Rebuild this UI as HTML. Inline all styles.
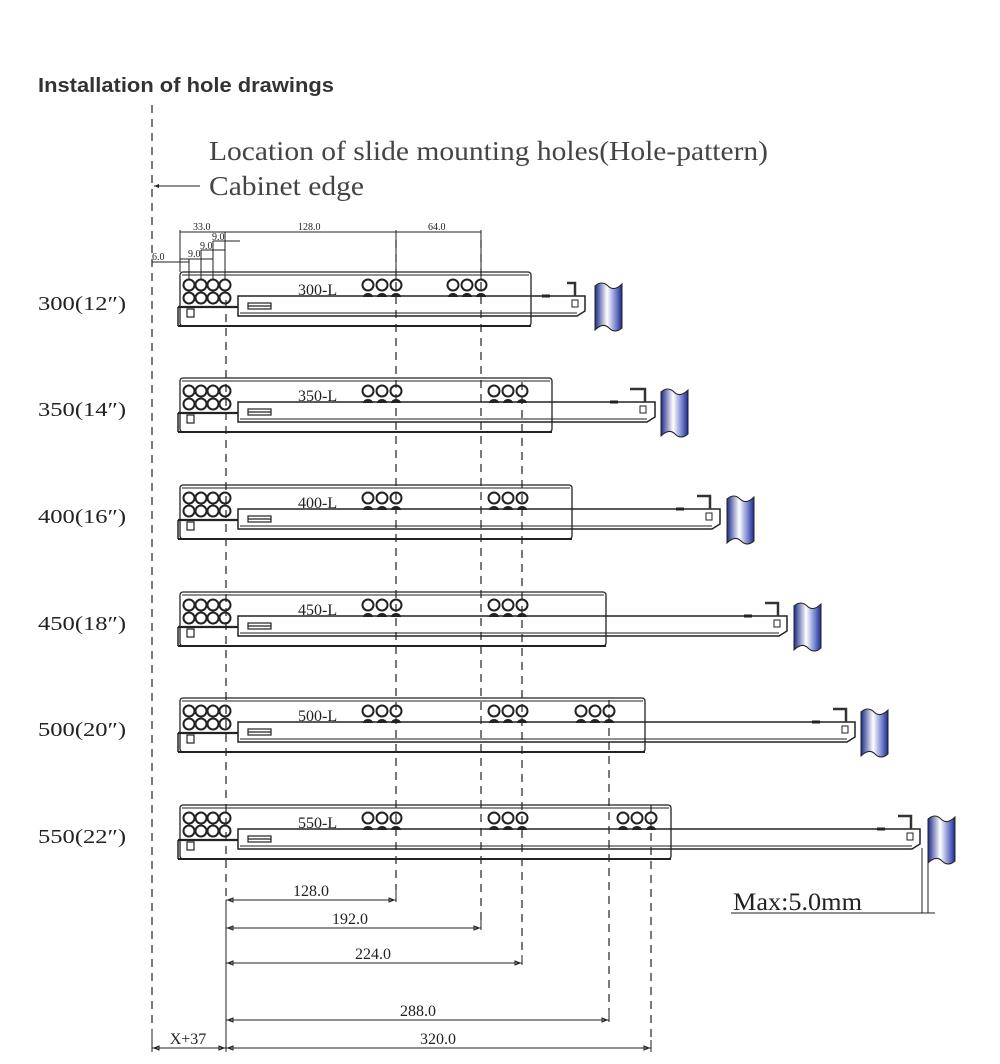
<!DOCTYPE html>
<html><head><meta charset="utf-8"><style>
html,body{margin:0;padding:0;background:#fff;}
svg{display:block;}
.s{font-family:"Liberation Serif",serif;}
</style></head><body>
<svg width="1000" height="1064" viewBox="0 0 1000 1064" xmlns="http://www.w3.org/2000/svg">
<defs>
<linearGradient id="pg" x1="0" x2="1" y1="0" y2="0">
<stop offset="0" stop-color="#1c2a8a"/><stop offset="0.45" stop-color="#ffffff"/><stop offset="0.8" stop-color="#6a78c8"/><stop offset="1" stop-color="#1c2a8a"/>
</linearGradient>
<g id="common" fill="none" stroke="#222">
<g stroke-width="2">
<circle cx="189" cy="13" r="5.5"/><circle cx="201" cy="13" r="5.5"/><circle cx="213" cy="13" r="5.5"/><circle cx="225" cy="13" r="5.5"/>
<circle cx="189" cy="26" r="5.5"/><circle cx="201" cy="26" r="5.5"/><circle cx="213" cy="26" r="5.5"/><circle cx="225" cy="26" r="5.5"/>
</g>
<line x1="178" y1="35" x2="238" y2="35" stroke-width="2.2"/>
<line x1="178" y1="35" x2="178" y2="54" stroke-width="1.5"/>
<rect x="187" y="37" width="7" height="8" stroke-width="1.2"/>
<rect x="248" y="31" width="23" height="6" stroke-width="1.2"/>
<line x1="248" y1="34" x2="271" y2="34" stroke-width="1.2"/>
</g>
<g id="grp" fill="none" stroke="#222" stroke-width="2">
<circle cx="-28" cy="13" r="5.5"/><circle cx="-14" cy="13" r="5.5"/><circle cx="0" cy="13" r="5.5"/>
<path d="M-33,25 a5,4 0 0 1 10,0z M-19,25 a5,4 0 0 1 10,0z M-5,25 a5,4 0 0 1 10,0z" fill="#222" stroke="none"/>
</g>
<path id="post" d="M0,2 q7,-6 13,0 t14,-2 V44 q-7,6 -13,0 t-14,2 Z" fill="url(#pg)" stroke="#222" stroke-width="1"/>
</defs>

<text x="38" y="92" font-family="Liberation Sans, sans-serif" font-weight="bold" font-size="20" fill="#333" textLength="296" lengthAdjust="spacingAndGlyphs">Installation of hole drawings</text>
<text x="209" y="160" class="s" font-size="27" fill="#444" textLength="559" lengthAdjust="spacingAndGlyphs">Location of slide mounting holes(Hole-pattern)</text>
<text x="209" y="195" class="s" font-size="27" fill="#444" textLength="155" lengthAdjust="spacingAndGlyphs">Cabinet edge</text>
<line x1="154" y1="186" x2="200" y2="186" stroke="#222" stroke-width="1"/>
<path d="M154,186 l5,-2 v4z" fill="#222"/>

<g stroke="#222" stroke-width="1.2" stroke-dasharray="8,6" fill="none">
<line x1="152" y1="105" x2="152" y2="1030"/>
<line x1="226" y1="300" x2="226" y2="900"/>
<line x1="396" y1="240" x2="396" y2="890"/>
<line x1="481" y1="240" x2="481" y2="920"/>
<line x1="522" y1="382" x2="522" y2="955"/>
<line x1="609" y1="700" x2="609" y2="1010"/>
<line x1="651" y1="805" x2="651" y2="1040"/>
</g>
<g stroke="#222" stroke-width="1" fill="none">
<line x1="152" y1="1030" x2="152" y2="1052"/>
<line x1="226" y1="900" x2="226" y2="1052"/>
<line x1="396" y1="890" x2="396" y2="902"/>
<line x1="481" y1="920" x2="481" y2="930"/>
<line x1="522" y1="955" x2="522" y2="965"/>
<line x1="609" y1="1010" x2="609" y2="1022"/>
<line x1="651" y1="1040" x2="651" y2="1052"/>
<line x1="226" y1="900" x2="396" y2="900"/>
<line x1="226" y1="928" x2="481" y2="928"/>
<line x1="226" y1="963" x2="522" y2="963"/>
<line x1="226" y1="1020" x2="609" y2="1020"/>
<line x1="226" y1="1048" x2="651" y2="1048"/>
<line x1="152" y1="1048" x2="226" y2="1048"/>
</g>
<g fill="none" stroke="#222" stroke-width="1">
<path d="M228,900 l5,-2 v4z M394,900 l-5,-2 v4z M228,928 l5,-2 v4z M479,928 l-5,-2 v4z M228,963 l5,-2 v4z M520,963 l-5,-2 v4z M228,1020 l5,-2 v4z M607,1020 l-5,-2 v4z M228,1048 l5,-2 v4z M649,1048 l-5,-2 v4z M154,1048 l5,-2 v4z M224,1048 l-5,-2 v4z"/>
</g>
<g class="s" font-size="16" fill="#222" text-anchor="middle">
<text x="311" y="896">128.0</text>
<text x="350" y="924">192.0</text>
<text x="373" y="959">224.0</text>
<text x="418" y="1016">288.0</text>
<text x="438" y="1044">320.0</text>
<text x="188" y="1044">X+37</text>
</g>
<text x="733" y="910" class="s" font-size="25" fill="#222" textLength="129" lengthAdjust="spacingAndGlyphs">Max:5.0mm</text>
<g stroke="#222" stroke-width="1">
<line x1="731" y1="913" x2="935" y2="913"/>
<line x1="922" y1="848" x2="922" y2="913"/>
<line x1="928" y1="848" x2="928" y2="913"/>
</g>

<g stroke="#222" stroke-width="1" fill="none">
<line x1="180" y1="232" x2="481" y2="232"/>
<line x1="180" y1="230" x2="180" y2="272"/>
<line x1="396" y1="230" x2="396" y2="280"/>
<line x1="481" y1="230" x2="481" y2="280"/>
<line x1="225" y1="232" x2="225" y2="280"/>
<line x1="213" y1="241" x2="213" y2="280"/>
<line x1="201" y1="250" x2="201" y2="280"/>
<line x1="189" y1="259" x2="189" y2="280"/>
<line x1="213" y1="241" x2="240" y2="241"/>
<line x1="201" y1="250" x2="225" y2="250"/>
<line x1="180" y1="259" x2="213" y2="259"/>
<line x1="152" y1="262" x2="189" y2="262"/>
</g>
<g class="s" font-size="10" fill="#222">
<text x="193" y="230">33.0</text>
<text x="298" y="230">128.0</text>
<text x="428" y="230">64.0</text>
<text x="212" y="240">9.0</text>
<text x="200" y="249">9.0</text>
<text x="188" y="257">9.0</text>
<text x="152" y="260">6.0</text>
</g>

<g class="s" font-size="20" fill="#222">
<text x="38" y="310" textLength="88" lengthAdjust="spacingAndGlyphs">300(12″)</text>
<text x="38" y="416" textLength="88" lengthAdjust="spacingAndGlyphs">350(14″)</text>
<text x="38" y="523" textLength="88" lengthAdjust="spacingAndGlyphs">400(16″)</text>
<text x="38" y="630" textLength="88" lengthAdjust="spacingAndGlyphs">450(18″)</text>
<text x="38" y="736" textLength="88" lengthAdjust="spacingAndGlyphs">500(20″)</text>
<text x="38" y="843" textLength="88" lengthAdjust="spacingAndGlyphs">550(22″)</text>
</g>

<g transform="translate(0,272)">
<rect x="180" y="0" width="351" height="54" rx="3" fill="none" stroke="#222" stroke-width="1.3"/>
<line x1="182" y1="3" x2="529" y2="3" stroke="#222"/>
<line x1="178" y1="54" x2="531" y2="54" stroke="#222" stroke-width="2"/>
<use href="#grp" x="396"/><use href="#grp" x="481"/>
<path d="M238,24 H585 V39 L577,44 H238 Z" fill="none" stroke="#222" stroke-width="1.5"/>
<line x1="240" y1="41" x2="577" y2="41" stroke="#222"/>
<use href="#common"/>
<text x="298" y="23" class="s" font-size="16" fill="#222">300-L</text>
<path d="M567,11 H575 V24" fill="none" stroke="#333" stroke-width="2.5"/><rect x="572" y="28" width="6" height="7" fill="none" stroke="#222"/>
<line x1="542" y1="24" x2="550" y2="24" stroke="#222" stroke-width="3"/>
<use href="#post" x="595" y="12"/>
</g>
<g transform="translate(0,378)">
<rect x="180" y="0" width="372" height="54" rx="3" fill="none" stroke="#222" stroke-width="1.3"/>
<line x1="182" y1="3" x2="550" y2="3" stroke="#222"/>
<line x1="178" y1="54" x2="552" y2="54" stroke="#222" stroke-width="2"/>
<use href="#grp" x="396"/><use href="#grp" x="522"/>
<path d="M238,24 H655 V39 L647,44 H238 Z" fill="none" stroke="#222" stroke-width="1.5"/>
<line x1="240" y1="41" x2="647" y2="41" stroke="#222"/>
<use href="#common"/>
<text x="298" y="23" class="s" font-size="16" fill="#222">350-L</text>
<path d="M630,11 H645 V24" fill="none" stroke="#333" stroke-width="2.5"/><rect x="640" y="28" width="6" height="7" fill="none" stroke="#222"/>
<line x1="610" y1="24" x2="618" y2="24" stroke="#222" stroke-width="3"/>
<use href="#post" x="661" y="12"/>
</g>
<g transform="translate(0,485)">
<rect x="180" y="0" width="392" height="54" rx="3" fill="none" stroke="#222" stroke-width="1.3"/>
<line x1="182" y1="3" x2="570" y2="3" stroke="#222"/>
<line x1="178" y1="54" x2="572" y2="54" stroke="#222" stroke-width="2"/>
<use href="#grp" x="396"/><use href="#grp" x="522"/>
<path d="M238,24 H720 V39 L712,44 H238 Z" fill="none" stroke="#222" stroke-width="1.5"/>
<line x1="240" y1="41" x2="712" y2="41" stroke="#222"/>
<use href="#common"/>
<text x="298" y="23" class="s" font-size="16" fill="#222">400-L</text>
<path d="M697,11 H710 V24" fill="none" stroke="#333" stroke-width="2.5"/><rect x="706" y="28" width="6" height="7" fill="none" stroke="#222"/>
<line x1="676" y1="24" x2="684" y2="24" stroke="#222" stroke-width="3"/>
<use href="#post" x="727" y="12"/>
</g>
<g transform="translate(0,592)">
<rect x="180" y="0" width="426" height="54" rx="3" fill="none" stroke="#222" stroke-width="1.3"/>
<line x1="182" y1="3" x2="604" y2="3" stroke="#222"/>
<line x1="178" y1="54" x2="606" y2="54" stroke="#222" stroke-width="2"/>
<use href="#grp" x="396"/><use href="#grp" x="522"/>
<path d="M238,24 H787 V39 L779,44 H238 Z" fill="none" stroke="#222" stroke-width="1.5"/>
<line x1="240" y1="41" x2="779" y2="41" stroke="#222"/>
<use href="#common"/>
<text x="298" y="23" class="s" font-size="16" fill="#222">450-L</text>
<path d="M765,11 H778 V24" fill="none" stroke="#333" stroke-width="2.5"/><rect x="774" y="28" width="6" height="7" fill="none" stroke="#222"/>
<line x1="744" y1="24" x2="752" y2="24" stroke="#222" stroke-width="3"/>
<use href="#post" x="794" y="12"/>
</g>
<g transform="translate(0,698)">
<rect x="180" y="0" width="465" height="54" rx="3" fill="none" stroke="#222" stroke-width="1.3"/>
<line x1="182" y1="3" x2="643" y2="3" stroke="#222"/>
<line x1="178" y1="54" x2="645" y2="54" stroke="#222" stroke-width="2"/>
<use href="#grp" x="396"/><use href="#grp" x="522"/><use href="#grp" x="609"/>
<path d="M238,24 H855 V39 L847,44 H238 Z" fill="none" stroke="#222" stroke-width="1.5"/>
<line x1="240" y1="41" x2="847" y2="41" stroke="#222"/>
<use href="#common"/>
<text x="298" y="23" class="s" font-size="16" fill="#222">500-L</text>
<path d="M833,11 H846 V24" fill="none" stroke="#333" stroke-width="2.5"/><rect x="842" y="28" width="6" height="7" fill="none" stroke="#222"/>
<line x1="812" y1="24" x2="820" y2="24" stroke="#222" stroke-width="3"/>
<use href="#post" x="861" y="12"/>
</g>
<g transform="translate(0,805)">
<rect x="180" y="0" width="491" height="54" rx="3" fill="none" stroke="#222" stroke-width="1.3"/>
<line x1="182" y1="3" x2="669" y2="3" stroke="#222"/>
<line x1="178" y1="54" x2="671" y2="54" stroke="#222" stroke-width="2"/>
<use href="#grp" x="396"/><use href="#grp" x="522"/><use href="#grp" x="651"/>
<path d="M238,24 H920 V39 L912,44 H238 Z" fill="none" stroke="#222" stroke-width="1.5"/>
<line x1="240" y1="41" x2="912" y2="41" stroke="#222"/>
<use href="#common"/>
<text x="298" y="23" class="s" font-size="16" fill="#222">550-L</text>
<path d="M898,11 H911 V24" fill="none" stroke="#333" stroke-width="2.5"/><rect x="907" y="28" width="6" height="7" fill="none" stroke="#222"/>
<line x1="877" y1="24" x2="885" y2="24" stroke="#222" stroke-width="3"/>
<use href="#post" x="928" y="12"/>
</g>
</svg>
</body></html>
